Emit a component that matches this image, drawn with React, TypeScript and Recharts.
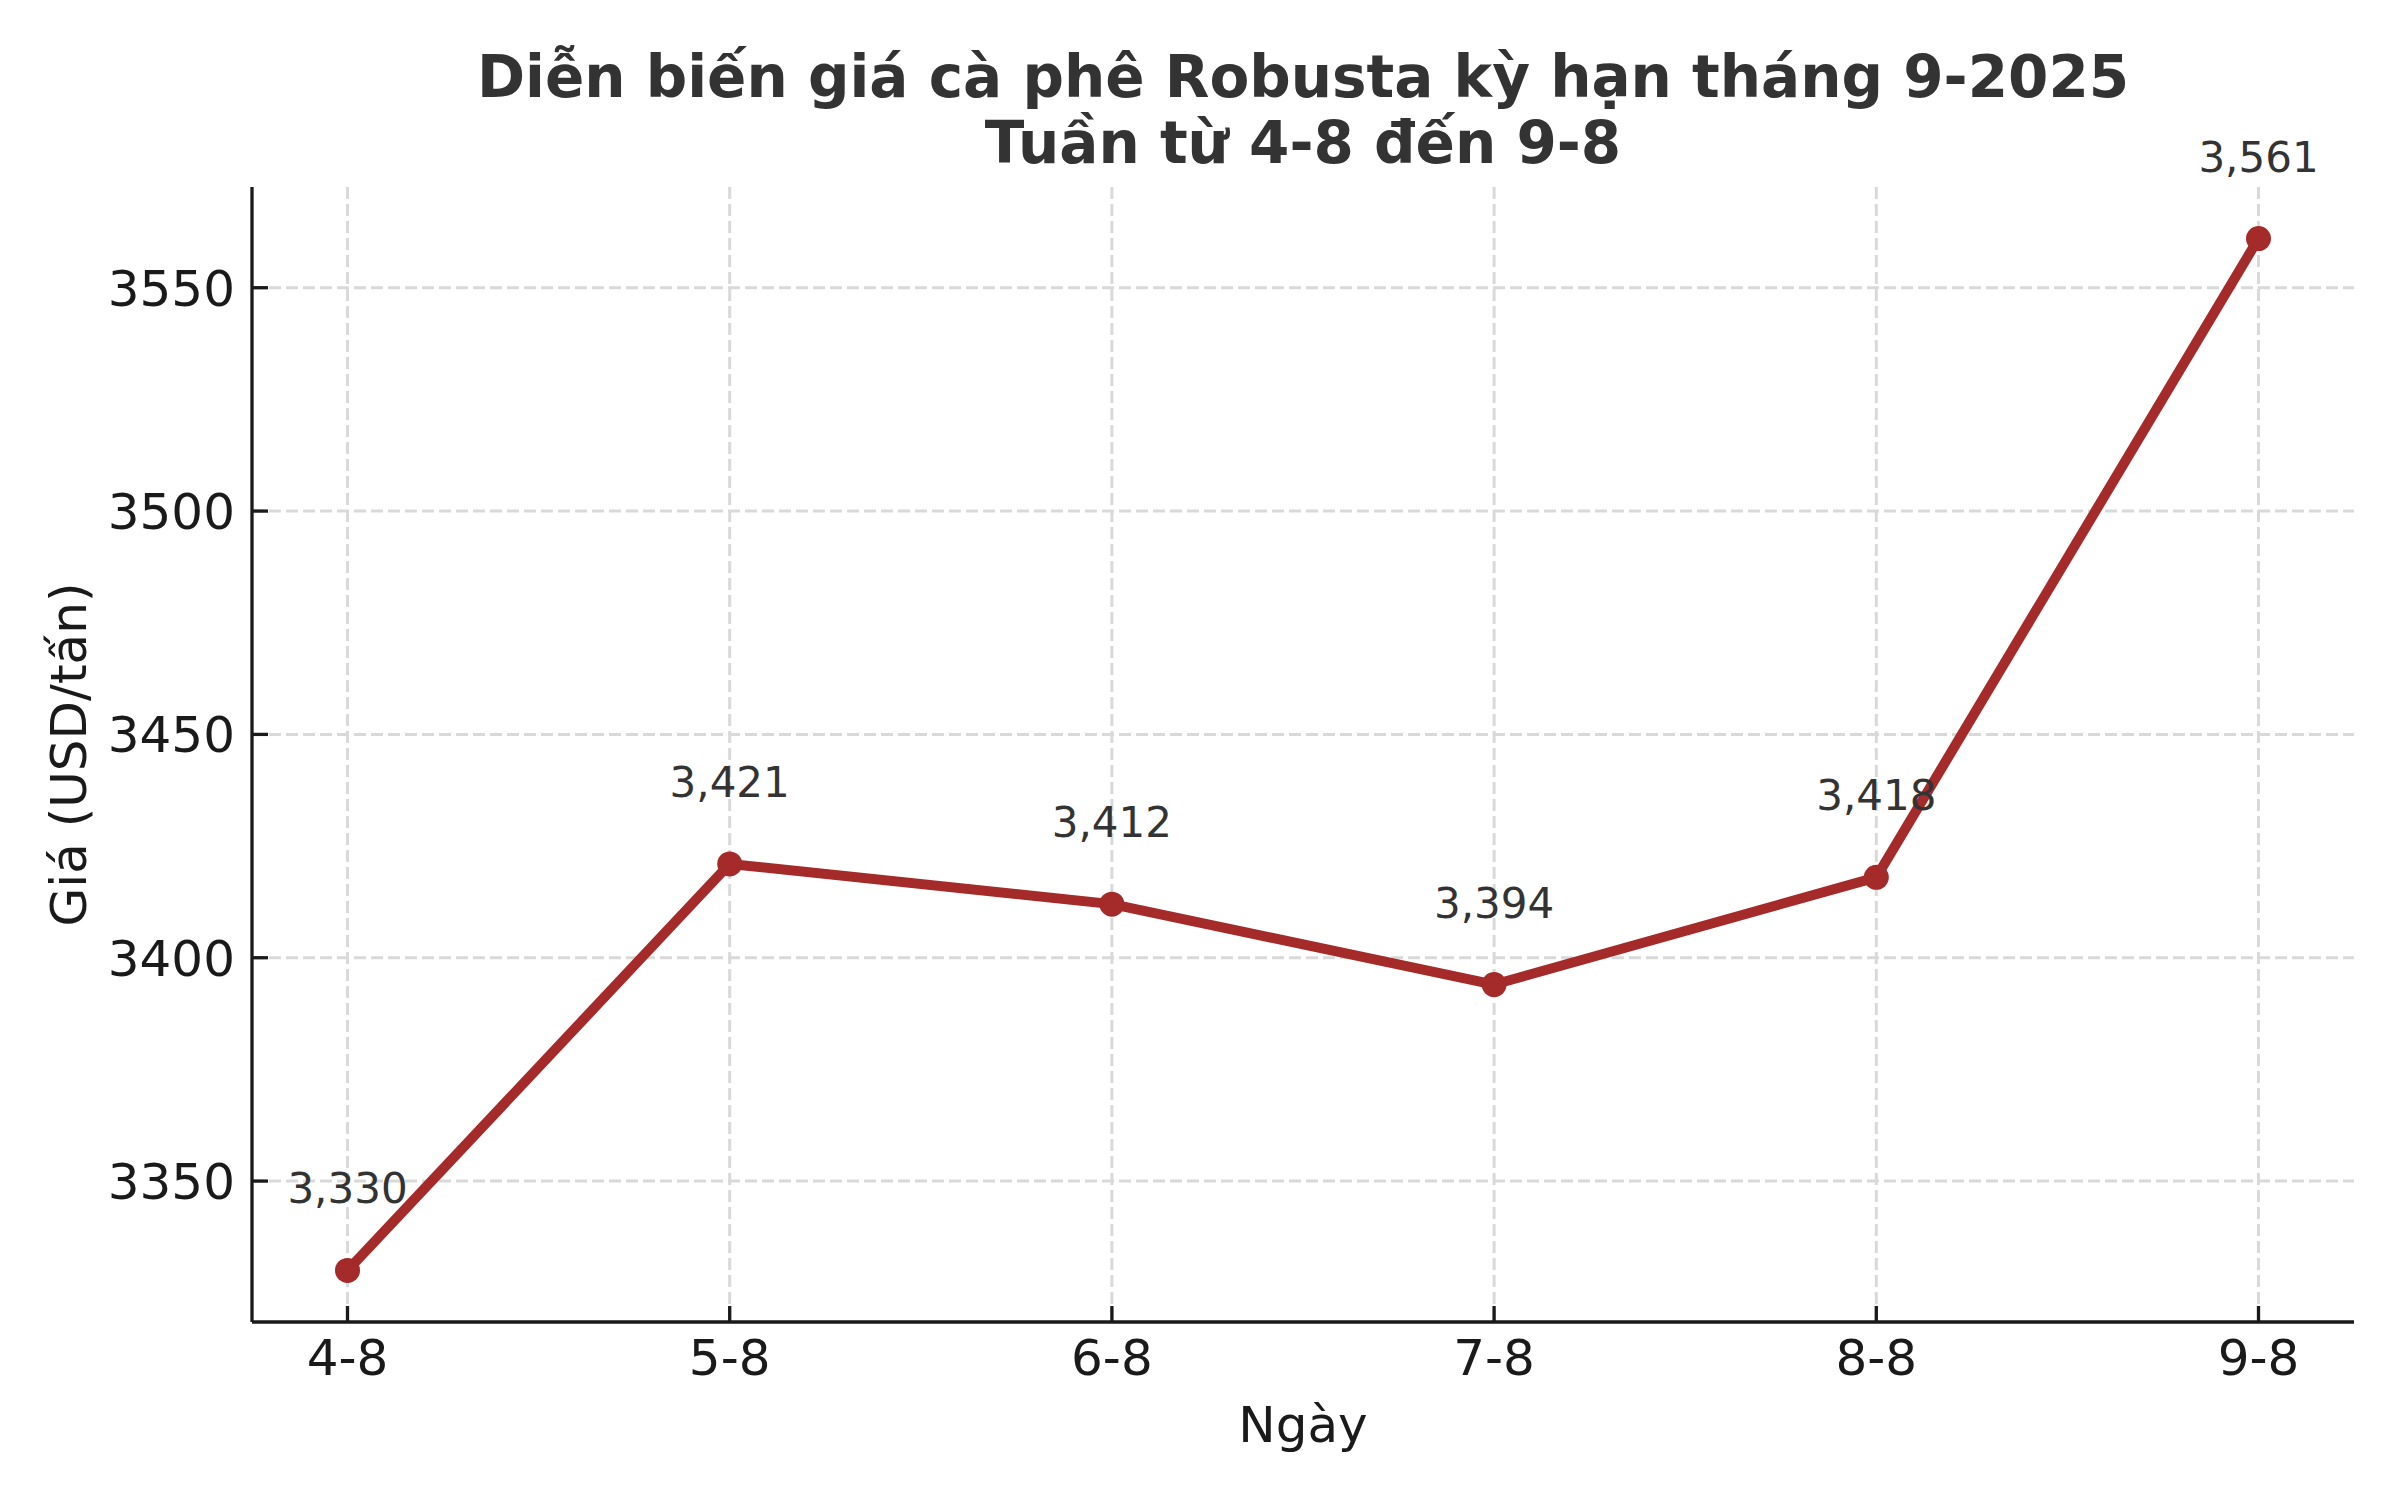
import { CartesianGrid, LabelList, Line, LineChart, XAxis, YAxis } from 'recharts';

const days = ['4-8', '5-8', '6-8', '7-8', '8-8', '9-8'];
const prices = [3330, 3421, 3412, 3394, 3418, 3561];
const yTicks = [3350, 3400, 3450, 3500, 3550];
const yDomain = [3318.45, 3572.55];
const titleLines = ['Diễn biến giá cà phê Robusta kỳ hạn tháng 9-2025', 'Tuần từ 4-8 đến 9-8'];

const data = days.map((day, i) => ({ day, price: prices[i] }));

const FONT = '"DejaVu Sans", sans-serif';
const LINE_COLOR = '#A52A2A';
const AXIS_COLOR = '#1a1a1a';

const YTick = ({ x, y, payload }: any) => (
    <g>
        <line x1={x + 17} x2={x + 33} y1={y} y2={y} stroke={AXIS_COLOR} strokeWidth={3.3} />
        <text x={x} y={y + 18} textAnchor="end" fontFamily={FONT} fontSize={50} fill={AXIS_COLOR}>
            {payload.value}
        </text>
    </g>
);

const XTick = ({ x, y, payload }: any) => (
    <g>
        <line x1={x} x2={x} y1={y - 17} y2={y - 33} stroke={AXIS_COLOR} strokeWidth={3.3} />
        <text x={x} y={y + 36} textAnchor="middle" fontFamily={FONT} fontSize={50} fill={AXIS_COLOR}>
            {payload.value}
        </text>
    </g>
);

export default function App() {
    return (
        <div style={{ position: 'absolute', left: 0, top: 0, width: 2400, height: 1500, background: '#fff' }}>
            <LineChart
                width={2400}
                height={1500}
                data={data}
                margin={{ top: 187, right: 46, left: 0, bottom: 0 }}
            >
                {/* syncWithTicks: grid only at ticks, no lines on the plot border */}
                <CartesianGrid stroke="#d9d9d9" strokeWidth={3} strokeDasharray="12 5" syncWithTicks />
                <XAxis
                    dataKey="day"
                    height={178}
                    padding={{ left: 95.5, right: 95.5 }}
                    axisLine={{ stroke: AXIS_COLOR, strokeWidth: 3.3 }}
                    tickLine={false}
                    tickSize={0}
                    tickMargin={17}
                    tick={<XTick />}
                    interval={0}
                    label={({ viewBox }: any) => (
                        <text
                            x={viewBox.x + viewBox.width / 2}
                            y={viewBox.y + 120}
                            textAnchor="middle"
                            fontFamily={FONT}
                            fontSize={50}
                            fill={AXIS_COLOR}
                        >
                            Ngày
                        </text>
                    )}
                />
                <YAxis
                    type="number"
                    width={252}
                    domain={yDomain}
                    ticks={yTicks}
                    axisLine={{ stroke: AXIS_COLOR, strokeWidth: 3.3 }}
                    tickLine={false}
                    tickSize={0}
                    tickMargin={17}
                    tick={<YTick />}
                    label={({ viewBox }: any) => {
                        const cx = viewBox.x + 86;
                        const cy = viewBox.y + viewBox.height / 2;
                        return (
                            <text
                                x={cx}
                                y={cy}
                                transform={`rotate(-90, ${cx}, ${cy})`}
                                textAnchor="middle"
                                fontFamily={FONT}
                                fontSize={50}
                                fill={AXIS_COLOR}
                            >
                                Giá (USD/tấn)
                            </text>
                        );
                    }}
                />
                <Line
                    type="linear"
                    dataKey="price"
                    stroke={LINE_COLOR}
                    strokeWidth={10}
                    strokeLinejoin="round"
                    dot={{ r: 12.5, fill: LINE_COLOR, stroke: 'none' }}
                    activeDot={false}
                    isAnimationActive={false}
                >
                    <LabelList
                        dataKey="price"
                        content={(p: any) => (
                            <text
                                x={p.x}
                                y={p.y - 67}
                                textAnchor="middle"
                                fontFamily={FONT}
                                fontSize={42}
                                fill="#333333"
                            >
                                {Number(p.value).toLocaleString('en-US')}
                            </text>
                        )}
                    />
                </Line>
            </LineChart>
            <svg
                width={2400}
                height={1500}
                style={{ position: 'absolute', left: 0, top: 0, pointerEvents: 'none' }}
            >
                {titleLines.map((t, i) => (
                    <text
                        key={i}
                        x={1303}
                        y={97 + i * 66}
                        textAnchor="middle"
                        fontFamily={FONT}
                        fontWeight="bold"
                        fontSize={58}
                        fill="#333333"
                    >
                        {t}
                    </text>
                ))}
            </svg>
        </div>
    );
}
